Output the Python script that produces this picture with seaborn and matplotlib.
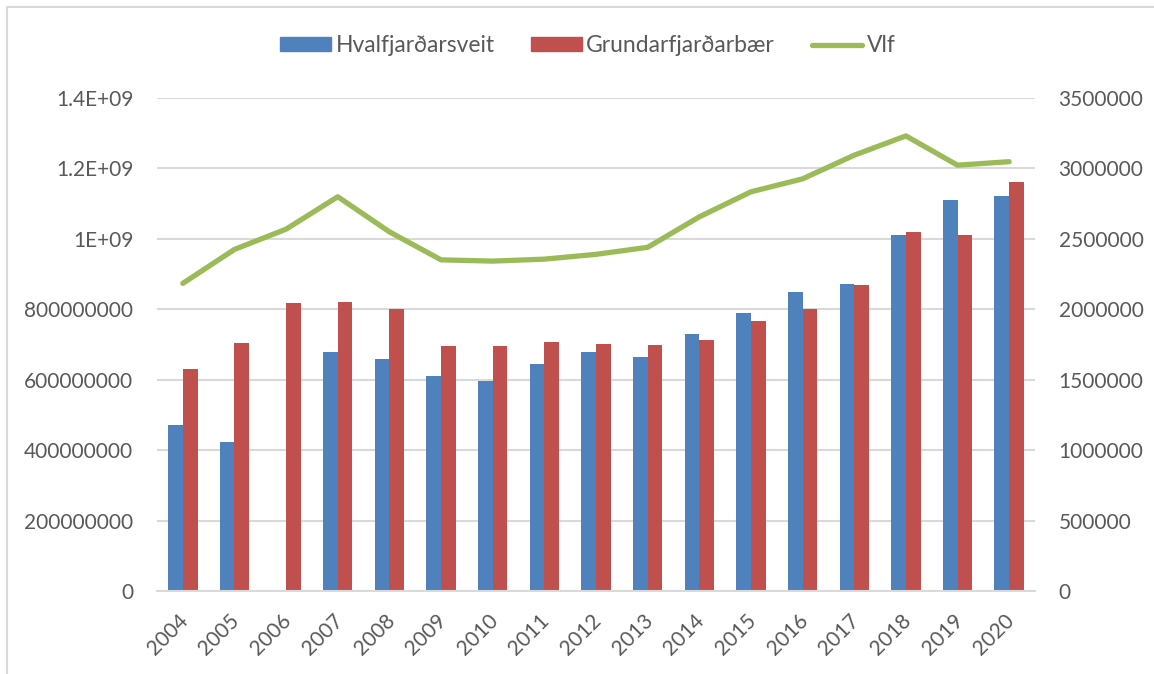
import numpy as np
import pandas as pd
import matplotlib
matplotlib.use("Agg")
import matplotlib.pyplot as plt
import matplotlib.transforms as mtransforms
import seaborn as sns
from matplotlib.ticker import FixedLocator, FixedFormatter
from matplotlib.lines import Line2D

years = [str(y) for y in range(2004, 2021)]
hvalfjardarsveit = [470e6, 423e6, 0, 679e6, 658e6, 610e6, 595e6, 644e6, 679e6,
                    664e6, 731e6, 789e6, 849e6, 871e6, 1011e6, 1111e6, 1122e6]
grundarfjardarbaer = [631e6, 704e6, 817e6, 822e6, 801e6, 696e6, 695e6, 706e6, 701e6,
                      699e6, 712e6, 768e6, 801e6, 868e6, 1020e6, 1012e6, 1161e6]
vlf = [2184000, 2425000, 2569000, 2799000, 2550000, 2351000, 2342000, 2356000, 2390000,
       2440000, 2656000, 2834000, 2926000, 3094000, 3231000, 3023000, 3048000]

left_ticks = [0, 200e6, 400e6, 600e6, 800e6, 1000e6, 1200e6, 1400e6]
left_labels = ["0", "200000000", "400000000", "600000000", "800000000", "1E+09", "1.2E+09", "1.4E+09"]
right_ticks = [0, 500000, 1000000, 1500000, 2000000, 2500000, 3000000, 3500000]
right_labels = [str(t) for t in right_ticks]

s1, s2, s3 = "Hvalfjarðarsveit", "Grundarfjarðarbær", "Vlf"
blue, red, green = "#4F81BD", "#C0504D", "#9BBB59"
text_col = "#595959"
grid_col = "#D9D9D9"

sns.set_theme(style="white")
plt.rcParams["font.family"] = ["Lato", "DejaVu Sans"]

df = pd.DataFrame({
    "year": years * 2,
    "value": hvalfjardarsveit + grundarfjardarbaer,
    "series": [s1] * len(years) + [s2] * len(years),
})

fig = plt.figure(figsize=(11.54, 6.74), dpi=100)
ax = fig.add_axes([157 / 1154, 1 - 591 / 674, (1035 - 157) / 1154, (591 - 98) / 674])

sns.barplot(data=df, x="year", y="value", hue="series", order=years, hue_order=[s1, s2],
            palette=[blue, red], width=0.57, gap=0, linewidth=0, saturation=1,
            ax=ax, legend=False)
ax.set_xlim(-0.5, len(years) - 0.5)
ax.set_ylim(0, 1.4e9)
ax.yaxis.set_major_locator(FixedLocator(left_ticks))
ax.yaxis.set_major_formatter(FixedFormatter(left_labels))
ax.set_xlabel("")
ax.set_ylabel("")
ax.grid(axis="y", color=grid_col, linewidth=1.5)
ax.set_axisbelow(True)
for sp in ["top", "right", "left"]:
    ax.spines[sp].set_visible(False)
ax.spines["bottom"].set_color(grid_col)
ax.spines["bottom"].set_linewidth(1.5)
ax.tick_params(axis="y", length=0, pad=17, labelsize=15, labelcolor=text_col)
ax.tick_params(axis="x", length=0, pad=14, labelsize=15, labelcolor=text_col)
shift = mtransforms.ScaledTranslation(-5 / 100, 0, fig.dpi_scale_trans)
for lab in ax.get_xticklabels():
    lab.set_rotation(45)
    lab.set_ha("right")
    lab.set_rotation_mode("anchor")
    lab.set_transform(lab.get_transform() + shift)

ax2 = ax.twinx()
sns.lineplot(x=np.arange(len(years)), y=vlf, color=green, linewidth=3.8, ax=ax2,
             legend=False)
ax2.set_ylim(0, 3.5e6)
ax2.yaxis.set_major_locator(FixedLocator(right_ticks))
ax2.yaxis.set_major_formatter(FixedFormatter(right_labels))
ax2.tick_params(axis="y", length=0, pad=17, labelsize=15, labelcolor=text_col)
for sp in ["top", "right", "left", "bottom"]:
    ax2.spines[sp].set_visible(False)
ax2.grid(False)
ax2.set_xlim(-0.5, len(years) - 0.5)

handles = [
    plt.Rectangle((0, 0), 1, 1, color=blue),
    plt.Rectangle((0, 0), 1, 1, color=red),
    Line2D([0], [0], color=green, linewidth=3.8, solid_capstyle="round"),
]
fig.legend(handles, [s1, s2, s3], loc="center", bbox_to_anchor=(588 / 1154, 1 - 46 / 674),
           ncol=3, frameon=False, fontsize=16.5, labelcolor=text_col,
           handlelength=2.2, handleheight=0.55, handletextpad=0.2, columnspacing=1.6)

# chart-area border (top and left visible)
fig.add_artist(Line2D([7 / 1154, 7 / 1154], [0, 1 - 7 / 674], transform=fig.transFigure,
                      color=grid_col, linewidth=1.5))
fig.add_artist(Line2D([7 / 1154, 1], [1 - 7 / 674, 1 - 7 / 674], transform=fig.transFigure,
                      color=grid_col, linewidth=1.5))

fig.savefig("out.png", dpi=100)
